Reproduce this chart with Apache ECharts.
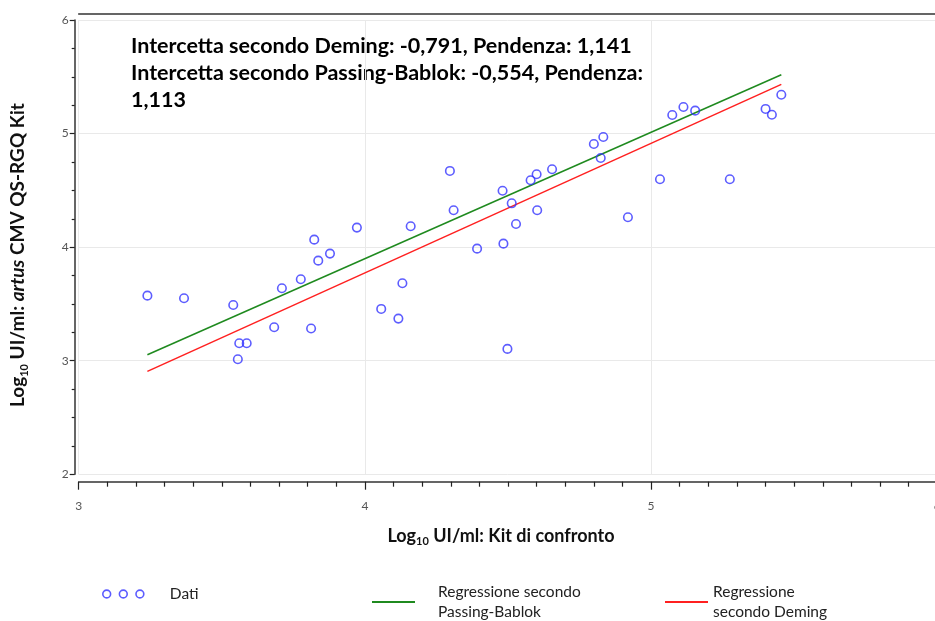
<!DOCTYPE html>
<html>
<head>
<meta charset="utf-8">
<script src="https://cdn.jsdelivr.net/npm/echarts@6/dist/echarts.min.js"></script>
<style>
  html, body { margin: 0; padding: 0; background: #fff; }
  #chart { width: 935px; height: 621px; }
</style>
</head>
<body>
<div id="chart"></div>
<script>
// ---- Data (log10 IU/ml) ----
const compareKit = [3.240, 3.368, 3.540, 3.561, 3.587, 3.556, 3.683, 3.710, 3.776, 3.812,
  3.823, 3.837, 3.878, 3.972, 4.057, 4.117, 4.131, 4.160, 4.297, 4.310,
  4.392, 4.481, 4.484, 4.498, 4.513, 4.528, 4.579, 4.600, 4.602, 4.654,
  4.800, 4.824, 4.833, 4.919, 5.031, 5.074, 5.113, 5.154, 5.275, 5.400,
  5.422, 5.455];
const artusKit = [3.573, 3.550, 3.491, 3.154, 3.154, 3.013, 3.295, 3.638, 3.717, 3.284,
  4.066, 3.881, 3.943, 4.172, 3.456, 3.371, 3.682, 4.184, 4.671, 4.325,
  3.987, 4.497, 4.031, 3.104, 4.386, 4.204, 4.589, 4.642, 4.325, 4.686,
  4.908, 4.785, 4.970, 4.263, 4.598, 5.164, 5.234, 5.202, 4.598, 5.217,
  5.166, 5.342];

// regression parameters [intercept, slope]
const passingBablok = [-0.554, 1.113];
const deming = [-0.791, 1.141];

const xTicks = [3, 6];
const yTicks = [2, 6];

const seriesNames = ['Dati', 'Regressione secondo Passing-Bablok', 'Regressione secondo Deming'];
const legendLabels = ['Dati', 'Regressione secondo\nPassing-Bablok', 'Regressione\nsecondo Deming'];
const annotation = 'Intercetta secondo Deming: -0,791, Pendenza: 1,141\nIntercetta secondo Passing-Bablok: -0,554, Pendenza:\n1,113';

const scatterData = compareKit.map((x, i) => [x, artusKit[i]]);
const xMin = Math.min(...compareKit), xMax = Math.max(...compareKit);
function regLine(p) { return [[xMin, p[0] + p[1] * xMin], [xMax, p[0] + p[1] * xMax]]; }

const FONT = 'Lato, "Noto Sans", sans-serif';
const BLUE = '#3434ff';

const chart = echarts.init(document.getElementById('chart'), null, { renderer: 'canvas' });

function makeRich(fs) {
  return {
    n: { fontFamily: FONT, fontWeight: 'bold', fontSize: fs, color: '#111', lineHeight: fs + 4 },
    i: { fontFamily: FONT, fontWeight: 'bold', fontStyle: 'italic', fontSize: fs, color: '#111', lineHeight: fs + 4 },
    s: { fontFamily: FONT, fontWeight: 'bold', fontSize: 11, color: '#111', lineHeight: 13, verticalAlign: 'bottom' }
  };
}

chart.setOption({
  animation: false,
  backgroundColor: '#fff',
  grid: { left: 78.7, right: -2.3, top: 20, bottom: 146.7, containLabel: false, outerBoundsMode: 'none' },
  xAxis: [{
    type: 'value', min: xTicks[0], max: xTicks[1], interval: 1, offset: 7.4,
    axisLine: { show: true, onZero: false, lineStyle: { color: '#333', width: 1.5 } },
    axisTick: { show: true, length: 8, lineStyle: { color: '#222', width: 1.2 } },
    minorTick: { show: true, splitNumber: 10, length: 5, lineStyle: { color: '#222', width: 1.2 } },
    splitLine: { show: true, lineStyle: { color: '#e9e9e9', width: 1 } },
    axisLabel: { margin: 18, color: '#555', fontSize: 12, fontFamily: FONT },
    name: '{n|Log}{s|10}{n| UI/ml: Kit di confronto}',
    nameLocation: 'middle', nameGap: 43,
    nameTextStyle: { rich: makeRich(18), padding: [0, 14, 0, 0] }
  }, {
    type: 'value', position: 'top', min: xTicks[0], max: xTicks[1], offset: 6.7,
    axisLine: { show: true, onZero: false, lineStyle: { color: '#333', width: 1.5 } },
    axisTick: { show: false }, axisLabel: { show: false }, splitLine: { show: false }
  }],
  yAxis: {
    type: 'value', min: yTicks[0], max: yTicks[1], interval: 1, offset: 4,
    axisLine: { show: true, onZero: false, lineStyle: { color: '#333', width: 1.5 } },
    axisTick: { show: true, length: 5, lineStyle: { color: '#222', width: 1.2 } },
    minorTick: { show: true, splitNumber: 4, length: 3, lineStyle: { color: '#222', width: 1.2 } },
    splitLine: { show: true, lineStyle: { color: '#e9e9e9', width: 1 } },
    axisLabel: { margin: 6, color: '#555', fontSize: 12, fontFamily: FONT },
    name: '{n|Log}{s|10}{n| UI/ml: }{i|artus}{n| CMV QS-RGQ Kit}',
    nameLocation: 'middle', nameGap: 45,
    nameTextStyle: { rich: makeRich(19), padding: [0, 16, 0, 0] }
  },
  legend: [{
    data: [seriesNames[0]], left: 97, top: 581, orient: 'horizontal',
    icon: 'path://M0,4a4,4 0 1,0 8,0a4,4 0 1,0 -8,0M17,4a4,4 0 1,0 8,0a4,4 0 1,0 -8,0M34,4a4,4 0 1,0 8,0a4,4 0 1,0 -8,0',
    itemWidth: 41, itemHeight: 9,
    itemStyle: { color: 'rgba(0,0,0,0)', borderColor: BLUE, borderWidth: 1.6 },
    textStyle: { fontFamily: FONT, fontSize: 15.5, color: '#222', padding: [0, 0, 0, 21] },
    formatter: () => legendLabels[0], selectedMode: false
  }, {
    data: [seriesNames[1]], left: 367, top: 567,
    icon: 'rect', itemWidth: 43, itemHeight: 2,
    textStyle: { fontFamily: FONT, fontSize: 15.5, color: '#222', lineHeight: 20, padding: [20, 0, 0, 18] },
    formatter: () => legendLabels[1], selectedMode: false
  }, {
    data: [seriesNames[2]], left: 660, top: 567,
    icon: 'rect', itemWidth: 43, itemHeight: 2,
    textStyle: { fontFamily: FONT, fontSize: 15.5, color: '#222', lineHeight: 20, padding: [20, 0, 0, 0] },
    formatter: () => legendLabels[2], selectedMode: false
  }],
  graphic: [{
    type: 'text', left: 131, top: 33,
    style: { text: annotation, fontFamily: FONT, fontWeight: 'bold', fontSize: 21.5, lineHeight: 27, fill: '#000' }
  }],
  series: [{
    name: seriesNames[0], type: 'scatter', data: scatterData,
    symbol: 'circle', symbolSize: 8.5,
    itemStyle: { color: 'rgba(0,0,0,0)', borderColor: BLUE, borderWidth: 1.6 },
    z: 5
  }, {
    name: seriesNames[1], type: 'line', data: regLine(passingBablok),
    showSymbol: false, lineStyle: { color: '#1f8a1f', width: 1.5 }, itemStyle: { color: '#1f8a1f' }, z: 3
  }, {
    name: seriesNames[2], type: 'line', data: regLine(deming),
    showSymbol: false, lineStyle: { color: '#ff2020', width: 1.5 }, itemStyle: { color: '#ff2020' }, z: 3
  }]
});
</script>
</body>
</html>
